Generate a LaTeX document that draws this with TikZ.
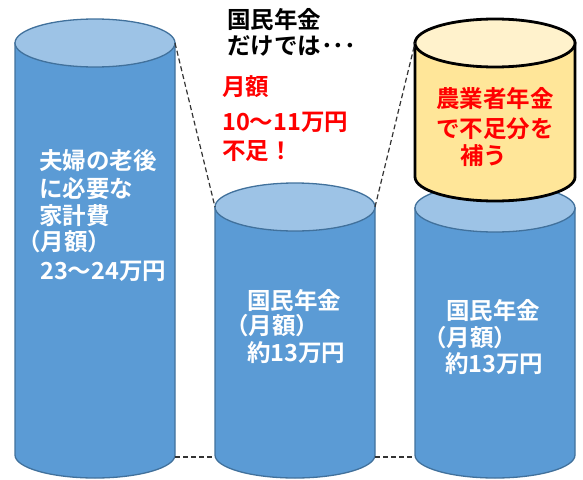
\documentclass[tikz,border=0pt]{standalone}
\usepackage{fontspec}
\newfontfamily\jp{Noto Sans CJK JP}[BoldFont={Noto Sans CJK JP Bold}]
\definecolor{side}{HTML}{5B9BD5}
\definecolor{topc}{HTML}{9DC3E6}
\definecolor{edge}{HTML}{41719C}
\definecolor{yside}{HTML}{FFE699}
\definecolor{ytop}{HTML}{FFF2CC}
\definecolor{dash}{HTML}{333333}
\tikzset{
  txt/.style={anchor=base west, inner sep=0pt, font=\jp\bfseries\fontsize{23.5}{28}\selectfont},
  wtxt/.style={txt, text=white},
  rtxt/.style={txt, text=red},
  btxt/.style={txt, text=black},
  guide/.style={draw=dash, line width=1.2pt, dash pattern=on 5pt off 3pt},
  bluecyl/.style={fill=side, draw=edge, line width=1.3pt},
  bluetop/.style={fill=topc, draw=edge, line width=1.3pt},
  yelcyl/.style={fill=yside, draw=black, line width=2.8pt},
  yeltop/.style={fill=ytop, draw=black, line width=2.8pt},
}
\begin{document}
\begin{tikzpicture}[x=1pt,y=-1pt]
\useasboundingbox (0,0) rectangle (583,479);
% left cylinder
\path[bluecyl] (15,43) -- (15,455) arc[start angle=180,end angle=0,x radius=80,y radius=23] -- (175,43) -- cycle;
\path[bluetop] (95,43) ellipse[x radius=80,y radius=24];
\coordinate (Ltr) at (175,43);
\coordinate (Lbr) at (175,457);
% middle cylinder
\path[bluecyl] (215,207) -- (215,455) arc[start angle=180,end angle=0,x radius=80,y radius=23] -- (375,207) -- cycle;
\path[bluetop] (295,207) ellipse[x radius=80,y radius=24];
\coordinate (Mtl) at (215,207);
\coordinate (Mtr) at (375,207);
\coordinate (Mbl) at (215,457);
\coordinate (Mbr) at (375,457);
% right cylinder
\path[bluecyl] (415,208) -- (415,455) arc[start angle=180,end angle=0,x radius=80,y radius=23] -- (575,208) -- cycle;
\path[bluetop] (495,208) ellipse[x radius=80,y radius=24];
\coordinate (Rbl) at (415,457);
% yellow cylinder
\path[yelcyl] (415,43) -- (415,177) arc[start angle=180,end angle=0,x radius=80,y radius=24] -- (575,43) -- cycle;
\path[yeltop] (495,43) ellipse[x radius=80,y radius=24];
\coordinate (Ytl) at (415,43);
% guides
\draw[guide] (Ltr) -- (Mtl);
\draw[guide] (Mtr) -- (Ytl);
\draw[guide] (Lbr) -- (Mbl);
\draw[guide] (Mbr) -- (Rbl);
% left text
\node[wtxt] (l1) at (39,169) {夫婦の老後};
\node[wtxt] (l2) at (39,197) {に必要な};
\node[wtxt] (l3) at (39,224) {家計費};
\node[wtxt] (l4) at (17,250) {（月額）};
\node[wtxt] (l5) at (40,279) {23～24万円};
% middle text
\node[wtxt] (m1) at (247,309) {国民年金};
\node[wtxt] (m2) at (225,334) {（月額）};
\node[wtxt] (m3) at (247,361) {約13万円};
% right text
\node[wtxt] (r1) at (446,319) {国民年金};
\node[wtxt] (r2) at (423,346) {（月額）};
\node[wtxt] (r3) at (445,372) {約13万円};
% top black text
\node[btxt] (t1) at (227,28) {国民年金};
\node[btxt] (t2) at (227,54) {だけでは･･･};
% red text
\node[rtxt] (d1) at (222,95) {月額};
\node[rtxt] (d2) at (222,130) {10～11万円};
\node[rtxt] (d3) at (222,159) {不足！};
% yellow text
\node[rtxt] (y1) at (436,107) {農業者年金};
\node[rtxt] (y2) at (436,137) {で不足分を};
\node[rtxt] (y3) at (460,164) {補う};
\end{tikzpicture}
\end{document}
